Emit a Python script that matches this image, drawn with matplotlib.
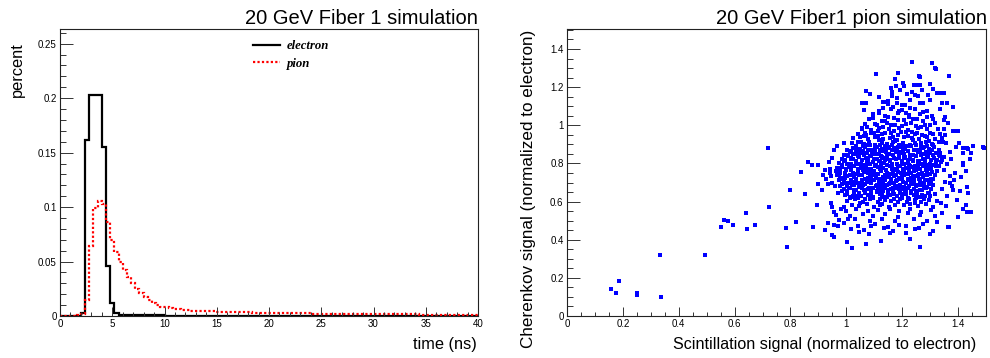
import numpy as np
import matplotlib
matplotlib.use("Agg")
import matplotlib.pyplot as plt
from matplotlib.ticker import MultipleLocator, FuncFormatter
from matplotlib.lines import Line2D

plt.rcParams['font.family'] = ['Liberation Sans', 'DejaVu Sans']

# ---------------- data: left panel (time distributions, 0.4 ns bins, 0-40 ns) ----------------
bin_lo, bin_hi, n_bins = 0.0, 40.0, 100
electron = [0, 0, 0, 0, 0, 0.003, 0.162, 0.2025, 0.2025, 0.2025,
            0.155, 0.0457, 0.0123, 0.003, 0.001, 0.0006, 0.0006, 0.0006, 0.0006, 0.0006,
            0.0006, 0.0006, 0.0006, 0.0006, 0.0006] + [0] * 75
pion = [0, 0, 0, 0, 0.0005, 0.002, 0.0147, 0.064, 0.099, 0.106,
        0.103, 0.086, 0.070, 0.059, 0.050, 0.042, 0.036, 0.030, 0.025, 0.021,
        0.017, 0.015, 0.012, 0.010, 0.0086, 0.008, 0.0071, 0.0068, 0.006, 0.0055,
        .0052, .0050, .0048, .0047, .0045, .0044, .0042, .0041, .0040, .0039,
        .0038, .0037, .0036, .0035, .0034, .0033, .0032, .0031, .0030, .0029,
        .0028, .0028, .0027, .0026, .0026, .0025, .0025, .0024, .0023, .0023,
        .0022, .0022, .0021, .0021, .0020, .0020, .0020, .0019, .0019, .0018,
        .0018, .0018, .0017, .0017, .0017, .0016, .0016, .0016, .0015, .0015,
        .0015, .0015, .0014, .0014, .0014, .0014, .0013, .0013, .0013, .0013,
        .0013, .0012, .0012, .0012, .0012, .0012, .0011, .0011, .0011, .0011]
legend_labels = ["electron", "pion"]

# ---------------- data: right panel (Scintillation vs Cherenkov, rows of events) ----------------
core_x = [
    [1.022,1.041,1.064,1.081,1.102,1.127,1.145,1.167,1.187,1.203,1.227,1.246,1.269,1.286,1.307,1.332],
    [1.004,1.025,1.050,1.068,1.090,1.110,1.126,1.150,1.169,1.192,1.209,1.230,1.255,1.273,1.295,1.315,1.331],
    [0.992,1.014,1.034,1.050,1.074,1.093,1.116,1.133,1.154,1.179,1.197,1.219,1.239,1.255,1.279,1.298,1.321],
    [0.983,1.006,1.023,1.044,1.069,1.087,1.109,1.129,1.145,1.169,1.188,1.211,1.228,1.249,1.274,1.292,1.314,1.334],
    [0.975,0.993,1.015,1.035,1.051,1.075,1.094,1.117,1.134,1.155,1.180,1.198,1.220,1.240,1.256,1.280,1.299,1.322,1.339],
    [0.970,0.986,1.010,1.029,1.052,1.069,1.090,1.115,1.133,1.155,1.175,1.191,1.215,1.234,1.257,1.274,1.295,1.320],
    [0.962,0.979,1.000,1.025,1.043,1.065,1.085,1.101,1.125,1.144,1.167,1.184,1.205,1.230,1.248,1.270,1.290,1.306],
    [0.966,0.986,1.002,1.026,1.045,1.068,1.085,1.106,1.131,1.149,1.171,1.191,1.207,1.231,1.250,1.273,1.290,1.311],
    [0.972,0.997,1.015,1.037,1.057,1.073,1.097,1.116,1.139,1.156,1.177,1.202,1.220,1.242,1.262,1.278,1.302],
    [0.978,1.002,1.021,1.044,1.061,1.082,1.107,1.125,1.147,1.167,1.183,1.207,1.226,1.249,1.266,1.287,1.312],
    [0.985,1.004,1.027,1.044,1.065,1.090,1.108,1.130,1.150,1.166,1.190,1.209,1.232,1.249,1.270,1.295],
    [0.995,1.017,1.037,1.053,1.077,1.096,1.119,1.136,1.157,1.182,1.200,1.222,1.242,1.258,1.282,1.301],
    [1.003,1.030,1.061,1.085,1.113,1.139,1.161,1.191,1.216,1.245,1.268,1.295,1.326],
    [0.990,1.021,1.045,1.073,1.099,1.121,1.151,1.176,1.205,1.228,1.255,1.286,1.310],
    [0.998,1.036,1.078,1.112,1.155,1.190,1.229,1.268,1.304],
    [0.962,1.012,1.058,1.097,1.140,1.184,1.220,1.262,1.318],
    [0.975,1.030,1.085,1.128,1.176,1.243,1.290],
    [0.955,1.040,1.103,1.150,1.212,1.275],
    [1.062,1.168,1.245],
]
core_y = [
    [.905,.911,.900,.914,.898,.908,.903,.913,.896,.909,.899,.906,.905,.911,.900,.914],
    [.873,.883,.878,.888,.871,.884,.874,.881,.880,.886,.875,.889,.873,.883,.878,.888,.871],
    [.846,.859,.849,.856,.855,.861,.850,.864,.848,.858,.853,.863,.846,.859,.849,.856,.855],
    [.825,.839,.823,.833,.828,.838,.821,.834,.824,.831,.830,.836,.825,.839,.823,.833,.828,.838],
    [.803,.813,.796,.809,.799,.806,.805,.811,.800,.814,.798,.808,.803,.813,.796,.809,.799,.806,.805],
    [.774,.781,.780,.786,.775,.789,.773,.783,.778,.788,.771,.784,.774,.781,.780,.786,.775,.789],
    [.761,.750,.764,.748,.758,.753,.763,.746,.759,.749,.756,.755,.761,.750,.764,.748,.758,.753],
    [.739,.723,.733,.728,.738,.721,.734,.724,.731,.730,.736,.725,.739,.723,.733,.728,.738,.721],
    [.713,.696,.709,.699,.706,.705,.711,.700,.714,.698,.708,.703,.713,.696,.709,.699,.706],
    [.681,.680,.686,.675,.689,.673,.683,.678,.688,.671,.684,.674,.681,.680,.686,.675,.689],
    [.658,.653,.663,.646,.659,.649,.656,.655,.661,.650,.664,.648,.658,.653,.663,.646],
    [.634,.624,.631,.630,.636,.625,.639,.623,.633,.628,.638,.621,.634,.624,.631,.630],
    [.605,.611,.600,.614,.598,.608,.603,.613,.596,.609,.599,.606,.605],
    [.573,.583,.578,.588,.571,.584,.574,.581,.580,.586,.575,.589,.573],
    [.552,.561,.548,.557,.563,.550,.559,.546,.556],
    [.531,.524,.536,.527,.533,.521,.538,.529,.525],
    [.503,.511,.498,.507,.500,.509,.496],
    [.478,.470,.481,.466,.474,.480],
    [.452,.446,.455],
]
inner_x = [
    [1.035,1.058,1.077,1.101,1.121,1.140,1.163,1.185,1.206,1.224,1.248,1.268,1.290,1.312],
    [1.015,1.038,1.060,1.079,1.102,1.119,1.141,1.162,1.180,1.203,1.221,1.244,1.263,1.286,1.305],
    [1.003,1.025,1.043,1.065,1.083,1.106,1.124,1.145,1.166,1.188,1.207,1.228,1.249,1.268,1.290,1.310],
    [0.994,1.016,1.034,1.057,1.078,1.098,1.120,1.139,1.158,1.178,1.199,1.219,1.238,1.261,1.283,1.304,1.324],
    [0.985,1.003,1.024,1.042,1.061,1.083,1.104,1.124,1.144,1.165,1.186,1.206,1.226,1.246,1.266,1.287,1.309,1.330],
    [0.978,0.998,1.018,1.040,1.058,1.079,1.100,1.121,1.143,1.162,1.183,1.203,1.224,1.244,1.265,1.284,1.303],
    [0.975,0.994,1.014,1.034,1.055,1.076,1.095,1.114,1.137,1.158,1.178,1.198,1.219,1.240,1.260,1.281,1.300,1.318],
    [0.978,0.996,1.017,1.036,1.055,1.078,1.098,1.118,1.140,1.160,1.180,1.199,1.221,1.241,1.261,1.283,1.303],
    [0.984,1.006,1.026,1.048,1.068,1.089,1.110,1.130,1.152,1.172,1.193,1.213,1.235,1.255,1.276,1.297],
    [0.992,1.013,1.035,1.055,1.076,1.097,1.118,1.139,1.160,1.181,1.201,1.222,1.242,1.262,1.284,1.302],
    [1.004,1.026,1.046,1.067,1.088,1.108,1.128,1.149,1.170,1.191,1.212,1.232,1.253,1.272,1.292],
    [1.012,1.040,1.066,1.094,1.120,1.147,1.172,1.199,1.226,1.250,1.277],
]
inner_y = [
    [.893,.889,.897,.886,.895,.891,.899,.887,.894,.890,.896,.888,.893,.898],
    [.866,.871,.863,.870,.865,.872,.862,.869,.867,.873,.864,.870,.866,.861,.871],
    [.842,.847,.839,.845,.841,.848,.838,.844,.846,.840,.849,.843,.837,.846,.841,.845],
    [.817,.821,.813,.820,.815,.823,.812,.819,.816,.822,.814,.820,.818,.811,.822,.816,.819],
    [.791,.797,.788,.795,.790,.798,.787,.794,.792,.796,.789,.797,.791,.786,.795,.790,.793,.788],
    [.766,.772,.763,.770,.765,.773,.762,.769,.767,.771,.764,.770,.766,.761,.772,.767,.769],
    [.742,.747,.738,.745,.740,.748,.737,.744,.741,.746,.739,.747,.743,.736,.745,.740,.744,.739],
    [.716,.722,.713,.720,.715,.723,.712,.719,.717,.721,.714,.722,.718,.711,.720,.715,.719],
    [.691,.697,.688,.695,.690,.698,.687,.694,.692,.696,.689,.697,.693,.686,.695,.690],
    [.666,.672,.663,.670,.665,.673,.662,.669,.667,.671,.664,.672,.668,.661,.670,.665],
    [.641,.647,.638,.645,.640,.648,.637,.644,.642,.646,.639,.647,.643,.636,.645],
    [.617,.621,.613,.620,.615,.622,.612,.619,.616,.621,.614],
]
upper_x = [
    [1.024,1.050,1.079,1.103,1.131,1.155,1.182,1.208,1.236,1.261,1.289,1.316,1.343],
    [1.040,1.071,1.098,1.129,1.160,1.186,1.213,1.245,1.272,1.301,1.334],
    [1.055,1.090,1.118,1.152,1.190,1.222,1.258,1.290,1.327],
    [1.068,1.110,1.145,1.176,1.215,1.250,1.283,1.318],
    [1.080,1.128,1.170,1.205,1.238,1.276,1.310,1.350],
    [1.095,1.140,1.184,1.226,1.262,1.305],
    [1.063,1.118,1.160,1.200,1.247,1.290,1.335],
]
upper_y = [
    [.931,.937,.926,.941,.929,.934,.924,.939,.932,.927,.940,.930,.935],
    [.956,.950,.962,.953,.959,.948,.964,.955,.951,.961,.957],
    [.981,.975,.988,.978,.984,.973,.986,.979,.983],
    [1.006,.999,1.012,1.001,1.009,.996,1.004,1.010],
    [1.033,1.025,1.038,1.028,1.035,1.022,1.031,1.027],
    [1.058,1.050,1.062,1.053,1.060,1.048],
    [1.082,1.076,1.088,1.079,1.085,1.074,1.083],
]
fill_x = [1.052,1.118,1.176,1.238,1.296,1.085,1.154,1.214,1.278,1.036,1.098,1.142,1.189,1.262,1.331,
          1.015,1.076,1.136,1.205,1.256,1.343,1.008,1.062,1.107,1.165,1.227,1.288,0.995,1.046,1.093,
          1.151,1.196,1.258,1.325,0.990,1.031,1.087,1.128,1.189,1.232,1.292,1.010,1.053,1.114,1.174,
          1.215,1.277,1.024,1.083,1.140,1.198,1.263,1.318,1.048,1.126,1.184,1.247,1.112,1.172,1.236,
          1.140,1.226,1.190,
          1.062,1.088,1.112,1.140,1.168,1.195,1.222,1.252,1.281,1.309,1.075,1.102,1.133,1.160,1.198,
          1.232,1.266,1.301,1.094,1.150,1.186,1.252,1.289,1.118,1.213,1.276,1.133,1.228,1.180]
fill_y = [0.912,0.925,0.918,0.921,0.917,0.898,0.886,0.893,0.884,0.861,0.852,0.873,0.858,0.862,0.845,
          0.826,0.817,0.830,0.826,0.812,0.818,0.787,0.778,0.792,0.776,0.789,0.773,0.752,0.741,0.755,
          0.737,0.748,0.742,0.760,0.712,0.703,0.719,0.707,0.716,0.704,0.712,0.670,0.682,0.664,0.676,
          0.662,0.678,0.628,0.637,0.622,0.641,0.624,0.640,0.594,0.586,0.598,0.590,0.968,0.972,0.966,
          1.020,1.042,1.074,
          0.945,0.962,0.944,0.958,0.940,0.967,0.946,0.962,0.944,0.952,0.992,1.008,0.990,1.002,0.994,
          1.011,0.992,1.000,1.036,1.045,1.028,1.034,1.046,1.066,1.062,1.070,1.092,1.090,1.116]
top_x = [1.234,1.308,1.320,1.369,1.107,1.186,1.261,1.175,1.071,1.086,1.056,1.070,1.117,1.133,1.143,1.149,
         1.161,1.165,1.177,1.193,1.202,1.205,1.243,1.255,1.264,1.234,1.270,1.300,1.312,1.326,1.336,1.350,
         1.294,1.342,1.359,1.381,1.217,1.245,1.257,1.163,1.181,1.229,1.262,1.274,1.300,1.199,1.211,1.149,1.167]
top_y = [1.333,1.328,1.294,1.258,1.269,1.276,1.257,1.241,1.180,1.163,1.115,1.115,1.150,1.124,1.122,1.126,
         1.197,1.173,1.208,1.185,1.223,1.208,1.209,1.209,1.209,1.176,1.185,1.215,1.189,1.171,1.171,1.172,
         1.159,1.119,1.119,1.094,1.163,1.157,1.152,1.154,1.142,1.133,1.115,1.115,1.133,1.107,1.107,1.112,1.098]
halo_right_x = [1.490,1.452,1.431,1.417,1.443,1.419,1.429,1.393,1.374,1.395,1.381,1.389,1.371,1.411,1.345,1.357,
                1.354,1.336,1.431,1.445,1.417,1.395,1.437,1.407,1.342,1.326,1.365,1.352,1.378,1.344,1.362,1.385,
                1.350,1.362,1.348,1.372,1.403,1.348,1.365,1.354,1.338,1.356,1.428,1.398,1.437,1.446,1.419,1.417,
                1.433,1.384,1.398,1.318,1.262,1.383,1.371]
halo_right_y = [0.885,0.893,0.879,0.853,0.822,0.792,0.760,0.885,0.822,0.972,0.972,0.751,0.734,0.731,0.914,0.906,
                0.949,0.853,0.544,0.544,0.560,0.608,0.643,0.655,0.538,0.491,0.468,0.702,0.681,0.664,0.628,0.712,
                0.765,0.795,0.832,0.858,0.905,0.981,1.010,1.045,0.592,0.575,0.583,0.520,0.876,0.853,0.883,0.801,
                0.675,0.970,0.970,1.299,1.255,0.661,0.696]
halo_left_x = [0.836,0.862,0.878,0.900,0.937,0.991,0.943,0.967,1.048,1.056,1.068,0.894,0.851,0.799,0.924,0.935,
               0.950,0.956,0.879,0.819,0.897,0.914,0.946,0.950,0.956,0.962,0.970,0.980,0.990,1.005,0.950,0.955,
               0.965,0.915,0.928,0.940,0.950,0.925,0.945,0.958,0.935,0.970,1.015,1.090,1.135,1.190,1.260,1.310,
               1.045,1.080]
halo_left_y = [0.757,0.806,0.790,0.790,0.809,0.906,0.748,0.774,0.941,0.984,0.958,0.582,0.639,0.663,0.451,0.489,
               0.425,0.416,0.465,0.491,0.690,0.663,0.593,0.572,0.546,0.532,0.647,0.562,0.486,0.507,0.830,0.870,
               0.890,0.742,0.718,0.770,0.700,0.765,0.735,0.680,0.690,0.470,0.455,0.470,0.460,0.475,0.460,0.445,
               0.440,0.430]
tail_x = [0.718,1.492,0.783,0.789,0.724,0.674,0.644,0.642,0.596,0.575,0.563,0.551,0.495,0.335,0.332,0.250,
          0.250,0.186,0.176,0.158,1.001,1.021,1.069,1.123,1.157,1.214,1.229,1.265,1.298,1.367]
tail_y = [0.883,0.883,0.461,0.363,0.570,0.479,0.458,0.540,0.479,0.496,0.502,0.468,0.319,0.100,0.319,0.123,
          0.109,0.186,0.121,0.144,0.386,0.358,0.375,0.395,0.437,0.437,0.404,0.363,0.428,0.468]


def flatten(rows_x, rows_y):
    xs, ys = [], []
    for rx, ry in zip(rows_x, rows_y):
        for a, b in zip(rx, ry):
            xs.append(a)
            ys.append(b)
    return xs, ys


sx, sy = [], []
for gx, gy in [(core_x, core_y), (inner_x, inner_y), (upper_x, upper_y)]:
    a, b = flatten(gx, gy)
    sx += a
    sy += b
for gx, gy in [(fill_x, fill_y), (top_x, top_y), (halo_right_x, halo_right_y),
               (halo_left_x, halo_left_y), (tail_x, tail_y)]:
    for a, b in zip(gx, gy):
        sx.append(a)
        sy.append(b)

# ---------------- figure ----------------
W, H = 990, 358
fig = plt.figure(figsize=(W / 100, H / 100), dpi=100)


def px(l, t, r, b):
    return [l / W, 1 - b / H, (r - l) / W, (b - t) / H]


ax1 = fig.add_axes(px(60, 29, 478, 316))
ax2 = fig.add_axes(px(567, 29, 986, 316))

edges = np.linspace(bin_lo, bin_hi, n_bins + 1)
ax1.stairs(electron, edges, color='black', lw=1.6)
ax1.stairs(pion, edges, color='red', lw=1.6, linestyle=(0, (1, 1)))
ax1.set_xlim(0, 40)
ax1.set_ylim(0, 0.2635)

ax2.plot(sx, sy, 's', color='blue', ms=2.6, mew=0, ls='none')
ax2.set_xlim(0, 1.5)
ax2.set_ylim(0, 1.505)

fmt = FuncFormatter(lambda v, p: '%g' % round(v, 6))
for ax in (ax1, ax2):
    ax.xaxis.set_major_formatter(fmt)
    ax.yaxis.set_major_formatter(fmt)
    ax.tick_params(which='both', direction='in', top=False, right=False,
                   labelsize=7, width=0.7, pad=2.5, color='#333333')
    ax.tick_params(axis='x', which='major', length=6.2)
    ax.tick_params(axis='x', which='minor', length=3.1)
    ax.tick_params(axis='y', which='major', length=9)
    ax.tick_params(axis='y', which='minor', length=4.5)
    for s in ax.spines.values():
        s.set_linewidth(0.8)
        s.set_color('#222222')

ax1.xaxis.set_major_locator(MultipleLocator(5))
ax1.xaxis.set_minor_locator(MultipleLocator(1))
ax1.yaxis.set_major_locator(MultipleLocator(0.05))
ax1.yaxis.set_minor_locator(MultipleLocator(0.01))
ax2.xaxis.set_major_locator(MultipleLocator(0.2))
ax2.xaxis.set_minor_locator(MultipleLocator(0.05))
ax2.yaxis.set_major_locator(MultipleLocator(0.2))
ax2.yaxis.set_minor_locator(MultipleLocator(0.05))

# legend
h1 = Line2D([], [], color='black', lw=1.6)
h2 = Line2D([], [], color='red', lw=1.6, ls=(0, (1, 1)))
ax1.legend([h1, h2], legend_labels, loc='upper left',
           bbox_to_anchor=(253 / W, 1 - 40 / H), bbox_transform=fig.transFigure,
           frameon=False, borderpad=0, borderaxespad=0, handlelength=2.1,
           handletextpad=0.55, labelspacing=0.45,
           prop={'family': 'Liberation Serif', 'weight': 'bold', 'style': 'italic', 'size': 9.2})

# titles and axis titles
fig.text(478 / W, 1 - 24 / H, '20 GeV Fiber 1 simulation', ha='right', va='baseline', fontsize=14.5)
fig.text(987 / W, 1 - 24 / H, '20 GeV Fiber1 pion simulation', ha='right', va='baseline', fontsize=14.5)
fig.text(477 / W, 1 - 345 / H, 'time (ns)', ha='right', va='center', fontsize=11.8)
fig.text(17 / W, 1 - 42 / H, 'percent', ha='center', va='top', rotation=90, fontsize=11.8)
fig.text(976 / W, 1 - 344 / H, 'Scintillation signal (normalized to electron)', ha='right', va='center', fontsize=11.6)
fig.text(528 / W, 1 - 30 / H, 'Cherenkov signal (normalized to electron)', ha='center', va='top',
         rotation=90, fontsize=12.3)

fig.savefig('out.png', dpi=100)
